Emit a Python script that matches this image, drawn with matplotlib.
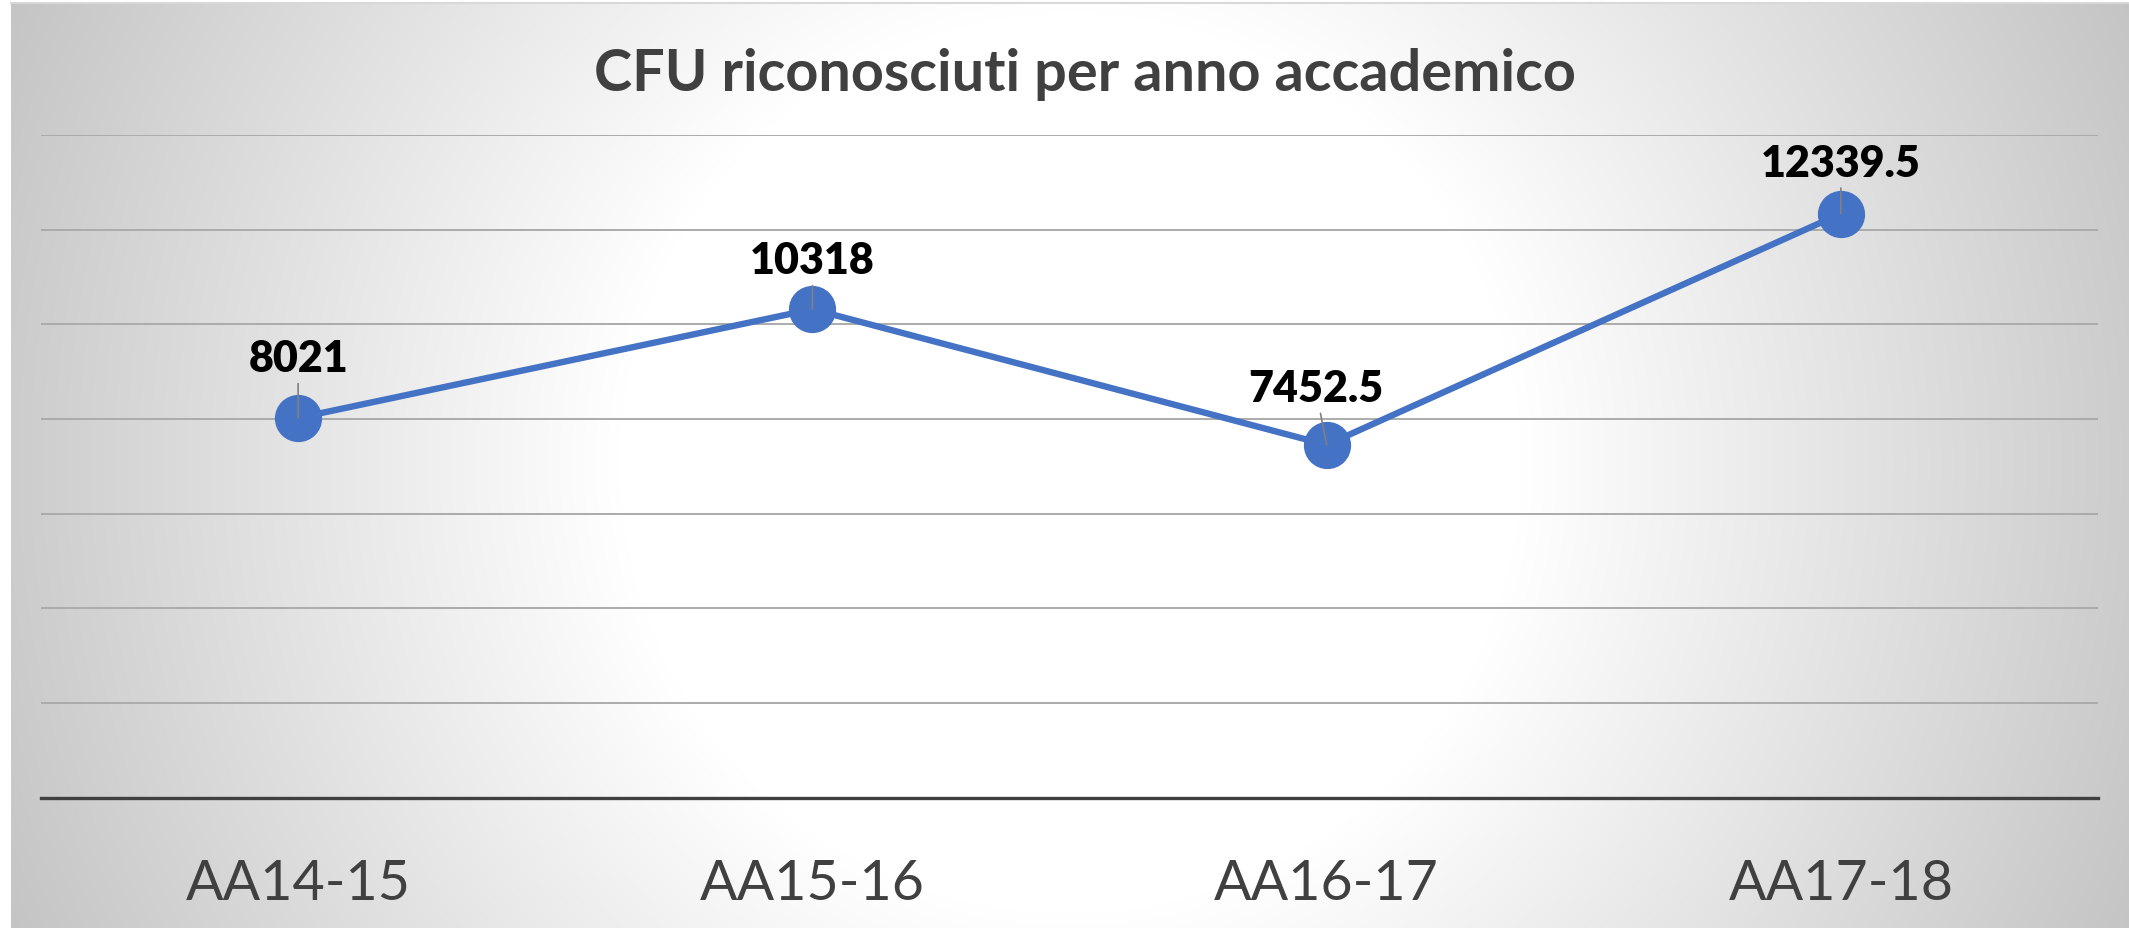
import numpy as np
import matplotlib
matplotlib.use("Agg")
import matplotlib.pyplot as plt
from matplotlib.lines import Line2D

plt.rcParams['font.family'] = ['Lato', 'DejaVu Sans']

# ---- data ----
categories = ["AA14-15", "AA15-16", "AA16-17", "AA17-18"]
values = [8021, 10318, 7452.5, 12339.5]
value_labels = ["8021", "10318", "7452.5", "12339.5"]
title = "CFU riconosciuti per anno accademico"

# label offsets (points) relative to each marker
label_dx = [0, 0, -8, 0]
label_dy = [33.8, 26, 31.7, 27.4]

W, H = 2129, 929
DPI = 100
fig = plt.figure(figsize=(W / DPI, H / DPI), dpi=DPI)
fig.patch.set_facecolor('white')

# ---- radial gradient background ----
bg = fig.add_axes([0, 0, 1, 1], zorder=-10)
bg.set_xlim(0, W)
bg.set_ylim(H, 0)
bg.axis('off')
yy, xx = np.mgrid[0:H, 0:W]
d = np.hypot(xx - 1070, yy - 464)
t = np.clip((d - 450) / (1160 - 450), 0, 1)
v = (255 - t * (255 - 196)) / 255.0
img = np.dstack([v, v, v])
img[:, :11, :] = 1.0
img[:4, :, :] = 1.0
bg.imshow(img, extent=(0, W, H, 0), interpolation='bilinear', aspect='auto')
bg.add_line(Line2D([11, W], [3.5, 3.5], color='#d8d8d8', lw=1.5))

# ---- main axes ----
ax = fig.add_axes([41 / W, 1 - 798.5 / H, (2098 - 41) / W, (798.5 - 136) / H])
ax.set_facecolor('none')
x = np.arange(len(categories))
ax.set_xlim(-0.5, len(categories) - 0.5)
ax.set_ylim(0, 14000)
ax.set_yticks(np.arange(0, 14001, 2000))
ax.yaxis.grid(True, color='#ababab', lw=1.4)
ax.set_axisbelow(True)
for s in ['top', 'right', 'left']:
    ax.spines[s].set_visible(False)
ax.spines['bottom'].set_color('#404040')
ax.spines['bottom'].set_linewidth(2.4)
ax.tick_params(axis='y', length=0, labelleft=False)
ax.set_xticks(x, categories)
ax.tick_params(axis='x', length=0, pad=73, labelsize=40, labelcolor='#404040')
for lab in ax.get_xticklabels():
    lab.set_verticalalignment('baseline')

ax.plot(x, values, color='#4472C4', lw=4.6, marker='o', markersize=33,
        markerfacecolor='#4472C4', markeredgecolor='#4472C4', zorder=3,
        solid_joinstyle='round')

for xi, val, lab, dx, dy in zip(x, values, value_labels, label_dx, label_dy):
    ax.annotate(lab, xy=(xi, val), xytext=(dx, dy), textcoords='offset points',
                ha='center', va='baseline', fontsize=31, fontweight='heavy',
                color='black', zorder=5,
                arrowprops=dict(arrowstyle='-', color='#808080', lw=1.2,
                                shrinkA=2, shrinkB=0))

fig.text(1085 / W, 1 - 91 / H, title, ha='center', va='baseline',
         fontsize=41.5, fontweight='bold', color='#404040')

fig.savefig('out.png', dpi=DPI)
